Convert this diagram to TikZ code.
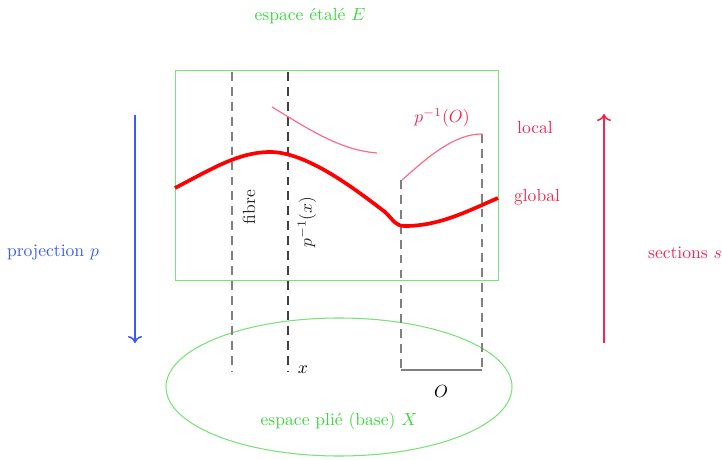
\documentclass[tikz,border=0pt]{standalone}
\usetikzlibrary{arrows.meta}
\definecolor{egreen}{RGB}{60,215,60}
\definecolor{bgreen}{RGB}{120,225,120}
\definecolor{pblue}{RGB}{60,90,245}
\definecolor{sred}{RGB}{240,40,80}
\definecolor{lpink}{RGB}{250,110,140}
\begin{document}
\begin{tikzpicture}[x=0.02cm,y=-0.02cm,
  fib/.style={gray,line width=0.6pt,dash pattern=on 5pt off 3.5pt},
  fibdark/.style={line width=0.7pt,dash pattern=on 5pt off 3.5pt,black!75},
  lbl/.style={inner sep=1pt}]
\useasboundingbox (0,0) rectangle (722,459);
% total space
\node[draw=bgreen,line width=0.6pt,minimum width=323*0.02cm,minimum height=210*0.02cm,anchor=north west,inner sep=0] (E) at (175,70) {};
\node[lbl,text=egreen] (Et) at (310,16) {espace étalé $E$};
% base
\draw[bgreen,line width=0.6pt] (339,387) ellipse [x radius=173, y radius=69];
\node[lbl,text=egreen] (Xt) at (339,421) {espace plié (base) $X$};
% fibres
\coordinate (f1t) at (232,72); \coordinate (f1b) at (232,371);
\coordinate (f2t) at (288,72); \coordinate (f2b) at (288,372);
\coordinate (f3t) at (401,180); \coordinate (f3b) at (401,370);
\coordinate (f4t) at (482,134); \coordinate (f4b) at (482,370);
\draw[fib] (f1t) -- (f1b);
\draw[fibdark] (f2t) -- (f2b);
\draw[fib] (f3t) -- (f3b);
\draw[fib] (f4t) -- (f4b);
\draw[gray,line width=0.7pt] (f3b) -- (f4b);
\node[lbl] (Ot) at (441,391) {$O$};
\node[lbl] (xt) at (303,370) {$x$};
\node[lbl,rotate=90,text=black!85] (fibre) at (249,207) {fibre};
\node[lbl,rotate=90,text=black!85] (px) at (307,222) {$p^{-1}(x)$};
% global section
\draw[red,line width=2.1pt] (175,188) .. controls (210,170) and (238,152) .. (270,152)
  .. controls (305,152) and (350,185) .. (385,212)
  .. controls (395,222) and (396,226) .. (405,226)
  .. controls (440,226) and (470,210) .. (498,198);
% local sections
\draw[lpink,line width=0.7pt] (272,107) .. controls (310,130) and (340,150) .. (377,153);
\draw[lpink,line width=0.7pt] (402,180) .. controls (430,155) and (455,134) .. (482,134);
\node[lbl,text=sred] (pO) at (442,118) {$p^{-1}(O)$};
\node[lbl,text=sred] (loc) at (535,127) {local};
\node[lbl,text=sred] (glob) at (537,197) {global};
% projection and sections
\coordinate (pa) at (135,115); \coordinate (pb) at (135,343);
\draw[pblue,line width=0.9pt,-{To[length=4pt,width=8pt]}] (pa) -- (pb);
\node[lbl,text=pblue] (proj) at (53,253) {projection $p$};
\coordinate (sa) at (604,343); \coordinate (sb) at (604,114);
\draw[sred,line width=0.9pt,-{To[length=4pt,width=8pt]}] (sa) -- (sb);
\node[lbl,text=sred] (sec) at (685,253) {sections $s$};
\end{tikzpicture}
\end{document}
